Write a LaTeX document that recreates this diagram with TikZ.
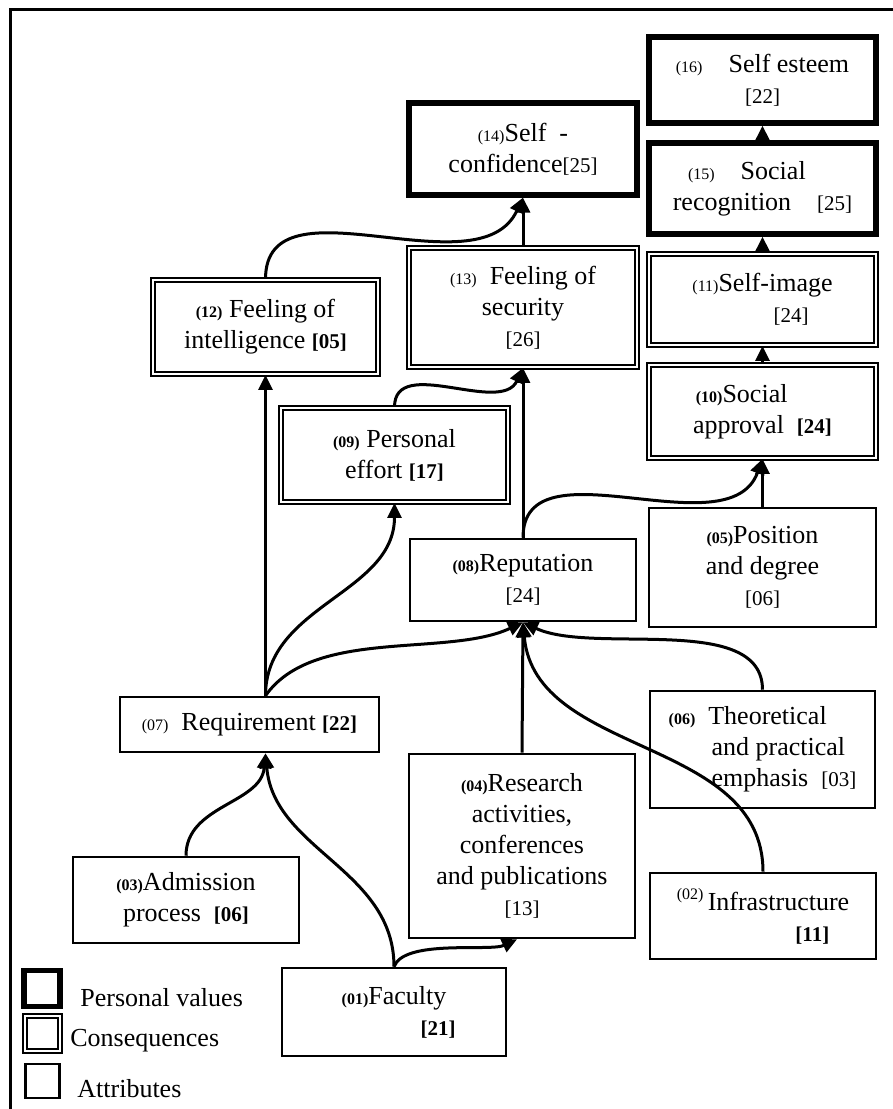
\documentclass[tikz,border=0pt]{standalone}
\usepackage{fontspec}
\setmainfont{Liberation Serif}
\usepackage{tikz}
\usetikzlibrary{arrows.meta,calc}
\pgfdeclarelayer{edgelayer}
\pgfdeclarelayer{nodelayer}
\pgfsetlayers{edgelayer,nodelayer,main}
\tikzstyle{none}=[inner sep=0pt]
\tikzstyle{attribute}=[rectangle,draw=black,line width=1.3,align=center,inner sep=0pt,font=\fontsize{13}{15.5}\selectfont]
\tikzstyle{consequence}=[attribute,double,line width=0.9,double distance=1.1]
\tikzstyle{value}=[attribute,line width=2.6]
\tikzstyle{legendtext}=[anchor=west,inner sep=0pt,font=\fontsize{13}{15.5}\selectfont]
\tikzstyle{inarrow}=[->, >={Triangle[length=7.5pt,width=7pt]}, line width=1.5]
\tikzstyle{frame}=[line width=1.5]
\newcommand{\lab}[1]{{\fontsize{8}{9}\selectfont #1}}
\newcommand{\blab}[1]{{\fontsize{8}{9}\selectfont\bfseries #1}}
\newcommand{\cnt}[1]{{\fontsize{10.5}{12}\selectfont #1}}
\newcommand{\bcnt}[1]{{\fontsize{10.5}{12}\selectfont\bfseries #1}}

\begin{document}
\begin{tikzpicture}[x=0.5pt,y=0.5pt]
	\useasboundingbox (0,0) rectangle (893,-1109);
	\draw [style=frame] (10,-1109) -- (10,-9) -- (893,-9);
	\begin{pgfonlayer}{nodelayer}
		% personal values
		\node [style=value, minimum width=113.5pt, minimum height=43pt] (esteem) at (762.5,-80) {\lab{(16)}\quad Self esteem\\ \cnt{[22]}};
		\node [style=value, minimum width=113.5pt, minimum height=45.5pt] (recognition) at (762.5,-188.5) {\lab{(15)}\quad Social\hspace*{1.2em}\\ recognition\quad\cnt{[25]}};
		\node [style=value, minimum width=114pt, minimum height=46pt] (confidence) at (523,-149) {\lab{(14)}Self\ \ -\\ confidence\cnt{[25]}};
		% consequences
		\node [style=consequence, minimum width=114pt, minimum height=59.5pt] (security) at (523,-307.5) {\lab{(13)}\ \ Feeling of\\ security\\ \cnt{[26]}};
		\node [style=consequence, minimum width=112.5pt, minimum height=47pt] (intelligence) at (265.5,-327) {\blab{(12)} Feeling of\\ intelligence \bcnt{[05]}};
		\node [style=consequence, minimum width=113.5pt, minimum height=45.5pt] (selfimage) at (762.5,-299.5) {\lab{(11)}Self-image\\ \hspace*{2.2em}\cnt{[24]}};
		\node [style=consequence, minimum width=113.5pt, minimum height=46.5pt] (approval) at (762.5,-411.5) {\blab{(10)}Social\hspace*{1.6em}\\ approval\ \ \bcnt{[24]}};
		\node [style=consequence, minimum width=113.5pt, minimum height=47pt] (effort) at (394.5,-455) {\blab{(09)} Personal\\ effort \bcnt{[17]}};
		% attributes
		\node [style=attribute, minimum width=113pt, minimum height=41pt] (reputation) at (523,-580) {\blab{(08)}Reputation\\ \cnt{[24]}};
		\node [style=attribute, minimum width=113.5pt, minimum height=59.5pt] (position) at (762.5,-567.5) {\blab{(05)}Position\\ and degree\\ \cnt{[06]}};
		\node [style=attribute, minimum width=129.5pt, minimum height=27.5pt] (requirement) at (249.5,-724.5) {\lab{(07)}\ \ Requirement \bcnt{[22]}};
		\node [style=attribute, align=left, minimum width=112.5pt, minimum height=58.5pt] (emphasis) at (762.5,-749.5) {\blab{(06)}\ \ Theoretical\\ \hspace*{1.65em}and practical\\ \hspace*{1.65em}emphasis\ \ \cnt{[03]}};
		\node [style=attribute, minimum width=113pt, minimum height=92pt] (research) at (522,-846) {\blab{(04)}Research\\ activities,\\ conferences\\ and publications\\ \cnt{[13]}};
		\node [style=attribute, minimum width=113pt, minimum height=43pt] (admission) at (186,-900) {\blab{(03)}Admission\\ process\ \ \bcnt{[06]}};
		\node [style=attribute, minimum width=113pt, minimum height=43pt] (infrastructure) at (763,-916) {\raisebox{0.9ex}{\lab{(02)}}\,Infrastructure\\ \hspace*{3.8em}\bcnt{[11]}};
		\node [style=attribute, minimum width=112pt, minimum height=44pt] (faculty) at (394,-1012) {\blab{(01)}Faculty\\ \hspace*{3.4em}\bcnt{[21]}};
		% legend
		\node [style=value, minimum size=18pt] (keyV) at (42,-988.5) {};
		\node [style=consequence, minimum size=17.5pt] (keyC) at (42.5,-1033.5) {};
		\node [style=attribute, minimum size=17pt] (keyA) at (42.5,-1081) {};
		\node [style=legendtext] (keyVtext) at (80,-998) {Personal values};
		\node [style=legendtext] (keyCtext) at (70,-1041) {Consequences};
		\node [style=legendtext] (keyAtext) at (77,-1089) {Attributes};
	\end{pgfonlayer}
	\begin{pgfonlayer}{edgelayer}
		\draw [style=inarrow] (recognition.north) -- (esteem.south);
		\draw [style=inarrow] (selfimage.north) -- (recognition.south);
		\draw [style=inarrow] (approval.north) -- (selfimage.south);
		\draw [style=inarrow] (position.north) -- (approval.south);
		\draw [style=inarrow] (security.north) -- (confidence.south);
		\draw [style=inarrow] (reputation.north) -- (security.south);
		\draw [style=inarrow] (research.north) -- (reputation.south);
		\draw [style=inarrow] (requirement.north -| intelligence) -- (intelligence.south);
		\draw [style=inarrow, out=90, in=-115] (intelligence.north) to (confidence.south);
		\draw [style=inarrow, out=90, in=-115] (effort.north) to (security.south);
		\draw [style=inarrow, out=90, in=-110] (reputation.north) to (approval.south);
		\draw [style=inarrow, out=90, in=-90] (requirement.north -| intelligence) to (effort.south);
		\draw [style=inarrow, out=55, in=-155, looseness=0.8] (requirement.north -| intelligence) to (reputation.south);
		\draw [style=inarrow, out=90, in=-25, looseness=0.8] (emphasis.north) to (reputation.south);
		\draw [style=inarrow, out=90, in=-85] (infrastructure.north) to (reputation.south);
		\draw [style=inarrow, out=90, in=-95] (admission.north) to (requirement.south -| intelligence);
		\draw [style=inarrow, out=90, in=-85] (faculty.north) to (requirement.south -| intelligence);
		\draw [style=inarrow, out=70, in=-155, looseness=0.6] (faculty.north) to ($(research.south)+(-5,0)$);
	\end{pgfonlayer}
\end{tikzpicture}
\end{document}
